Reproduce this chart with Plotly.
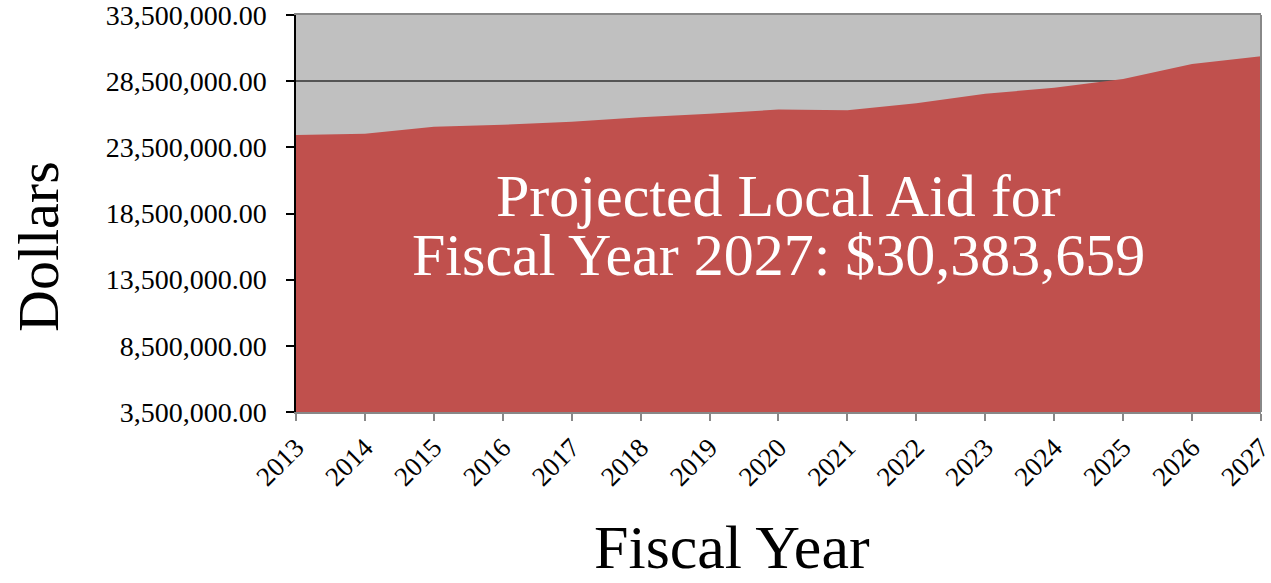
import plotly.graph_objects as go

years = list(range(2013, 2028))
local_aid = [24440000, 24520000, 25050000, 25200000, 25430000, 25780000, 26030000,
             26360000, 26310000, 26840000, 27550000, 28000000, 28660000, 29790000, 30383659]
y_ticks = [3500000, 8500000, 13500000, 18500000, 23500000, 28500000, 33500000]
y_tick_labels = [f"{v:,.2f}" for v in y_ticks]
note_lines = ["Projected Local Aid for", "Fiscal Year 2027: $30,383,659"]
x_title = "Fiscal Year"
y_title = "Dollars"

FONT = "Liberation Serif, Times New Roman, serif"
RED = "#C0504D"

W, H = 1271, 583
L, R, T, B = 296, 10, 15, 171
PW, PH = W - L - R, H - T - B


def px_to_paper(xp, yp):
    return (xp - L) / PW, (H - B - yp) / PH


fig = go.Figure()
fig.add_trace(go.Scatter(
    x=years, y=local_aid, mode="lines", fill="tozeroy",
    line=dict(color=RED, width=0), fillcolor=RED, showlegend=False,
    hoverinfo="x+y",
))

ax1 = px_to_paper(778, 196)
ax2 = px_to_paper(778, 255)
xt = px_to_paper(732, 547)
yt = px_to_paper(38, 247)

fig.update_layout(
    width=W, height=H,
    margin=dict(l=L, r=R, t=T, b=B),
    paper_bgcolor="white", plot_bgcolor="#C0C0C0",
    font=dict(family=FONT, color="black"),
    showlegend=False,
    xaxis=dict(
        range=[2013, 2027.0005], tickmode="array", tickvals=years,
        ticktext=[str(y) for y in years], tickangle=-45,
        tickfont=dict(size=27, family=FONT), ticklabeloverflow="allow",
        ticks="outside", ticklen=7, tickcolor="#888888", tickwidth=2,
        showline=True, linecolor="#888888", linewidth=2, mirror=True,
        showgrid=False, zeroline=False, automargin=False,
    ),
    yaxis=dict(
        range=[3500000, 33500000], tickmode="array", tickvals=y_ticks,
        ticktext=y_tick_labels, tickfont=dict(size=28, family=FONT),
        ticks="outside", ticklen=8, tickcolor="black", tickwidth=1.5,
        showline=True, linecolor="black", linewidth=1.5, mirror=False,
        showgrid=True, gridcolor="#555555", gridwidth=2, zeroline=False,
        ticklabelstandoff=14, automargin=False, ticklabeloverflow="allow",
    ),
    shapes=[dict(type="line", xref="paper", yref="paper", x0=1, x1=1, y0=0, y1=1,
                 line=dict(color="#888888", width=2))],
    annotations=[
        dict(text=note_lines[0], xref="paper", yref="paper", x=ax1[0], y=ax1[1],
             xanchor="center", yanchor="middle", showarrow=False,
             font=dict(size=60, family=FONT, color="white")),
        dict(text=note_lines[1], xref="paper", yref="paper", x=ax2[0], y=ax2[1],
             xanchor="center", yanchor="middle", showarrow=False,
             font=dict(size=60, family=FONT, color="white")),
        dict(text=x_title, xref="paper", yref="paper", x=xt[0], y=xt[1],
             xanchor="center", yanchor="middle", showarrow=False,
             font=dict(size=62, family=FONT, color="black")),
        dict(text=y_title, xref="paper", yref="paper", x=yt[0], y=yt[1],
             xanchor="center", yanchor="middle", showarrow=False, textangle=-90,
             font=dict(size=58, family=FONT, color="black")),
    ],
)

fig.write_html(
    "out.html",
    config={"displayModeBar": False},
    post_script="document.body.style.margin='0';document.body.style.overflow='hidden';",
)
